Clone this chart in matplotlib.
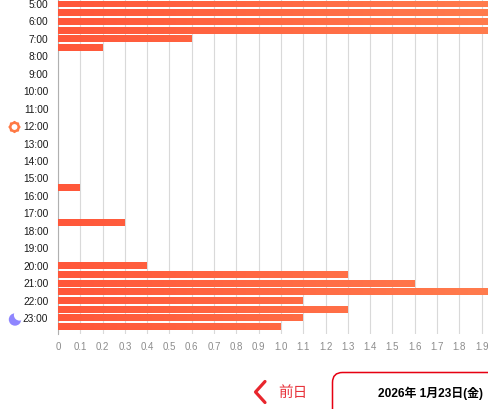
import matplotlib
matplotlib.use("Agg")
import matplotlib.pyplot as plt
import numpy as np
from matplotlib.colors import LinearSegmentedColormap
from matplotlib.path import Path
from matplotlib.patches import PathPatch, Circle, FancyBboxPatch


# half-hour slots, 5:00 .. 23:30
slot_hours = [5.0, 5.5, 6.0, 6.5, 7.0, 7.5, 8.0, 8.5, 9.0, 9.5,
              10.0, 10.5, 11.0, 11.5, 12.0, 12.5, 13.0, 13.5, 14.0, 14.5,
              15.0, 15.5, 16.0, 16.5, 17.0, 17.5, 18.0, 18.5, 19.0, 19.5,
              20.0, 20.5, 21.0, 21.5, 22.0, 22.5, 23.0, 23.5]
slot_values = [2.0, 2.0, 2.0, 2.0, 0.6, 0.2, 0, 0, 0, 0,
               0, 0, 0, 0, 0, 0, 0, 0, 0, 0,
               0, 0.1, 0, 0, 0, 0.3, 0, 0, 0, 0,
               0.4, 1.3, 1.6, 2.0, 1.1, 1.3, 1.1, 1.0]
hour_ticks = list(range(5, 24))
hour_labels = [f"{h}:00" for h in hour_ticks]
x_ticks = [round(i * 0.1, 1) for i in range(0, 21)]
x_labels = ["0" if v == 0 else f"{v:.1f}" for v in x_ticks]
date_text = "2026年 1月23日(金)"
prev_text = "前日"

W, H = 489, 409
XMAX = 2.0
YLIM = (23.92, 4.77)

fig = plt.figure(figsize=(W / 100, H / 100), dpi=100)
ax = fig.add_axes([58 / W, 1 - 334 / H, (504 - 58) / W, 334 / H])

bars = ax.barh(slot_hours, slot_values, height=0.4, color="none", edgecolor="none")
paths = [b.get_path().transformed(b.get_patch_transform()) for b in bars if b.get_width() > 0]
clip = PathPatch(Path.make_compound_path(*paths), transform=ax.transData,
                 facecolor="none", edgecolor="none")
ax.add_patch(clip)
cmap = LinearSegmentedColormap.from_list("bar", ["#ff573a", "#ff7d4e"])
grad = np.linspace(0, 1, 256).reshape(1, -1)
img = ax.imshow(grad, extent=[0, XMAX, YLIM[0], YLIM[1]], aspect="auto",
                cmap=cmap, zorder=3, interpolation="bilinear")
img.set_clip_path(clip)

ax.set_xlim(0, XMAX)
ax.set_ylim(*YLIM)
ax.set_xticks(x_ticks)
ax.set_xticklabels(x_labels, color="#8c8c8c", fontsize=7, family="Liberation Sans")
ax.set_yticks(hour_ticks)
ax.set_yticklabels(hour_labels, color="#1a1a1a", fontsize=7.3, family="Liberation Sans")
ax.tick_params(axis="both", length=0)
ax.tick_params(axis="x", pad=6)
ax.tick_params(axis="y", pad=7)
ax.grid(axis="x", color="#d9d9d9", linewidth=0.8)
ax.set_axisbelow(True)
for side in ["top", "right", "bottom"]:
    ax.spines[side].set_visible(False)
ax.spines["left"].set_color("#b0b0b0")
ax.spines["left"].set_linewidth(0.8)

# overlay in pixel coordinates for icons and the date bar
ov = fig.add_axes([0, 0, 1, 1], zorder=5)
ov.set_xlim(0, W)
ov.set_ylim(H, 0)
ov.axis("off")
ov.patch.set_alpha(0)

# sun
sun_c = (14.5, 127)
ov.add_patch(Circle(sun_c, 4.2, facecolor="white", edgecolor="#ff7a45", linewidth=1.8))
for a in np.linspace(0, 2 * np.pi, 8, endpoint=False):
    ov.add_patch(Circle((sun_c[0] + 5.0 * np.cos(a), sun_c[1] + 5.0 * np.sin(a)), 1.1,
                        facecolor="#ff7a45", edgecolor="none"))
# moon
ov.add_patch(Circle((15, 319.5), 6.2, facecolor="#8f86ff", edgecolor="none"))
ov.add_patch(Circle((19.5, 315), 5.6, facecolor="white", edgecolor="none"))

# previous day button
ov.plot([265, 255.5, 265], [381.5, 392, 402.5], color="#e8262d", linewidth=2.3,
        solid_capstyle="round", solid_joinstyle="round")
ov.text(278, 392.5, prev_text, color="#e8343c", fontsize=10.5, ha="left", va="center",
        family=["Noto Sans CJK JP", "DejaVu Sans"])

box = FancyBboxPatch((332.5, 372.5), 220, 60, boxstyle="round,pad=0,rounding_size=10",
                     facecolor="white", edgecolor="#e60012", linewidth=1.1)
ov.add_patch(box)
ov.text(378, 393, date_text, color="black", fontsize=8.6, fontweight="bold",
        ha="left", va="center", family=["Liberation Sans", "Noto Sans CJK JP"])

fig.savefig("out.png", dpi=100)
